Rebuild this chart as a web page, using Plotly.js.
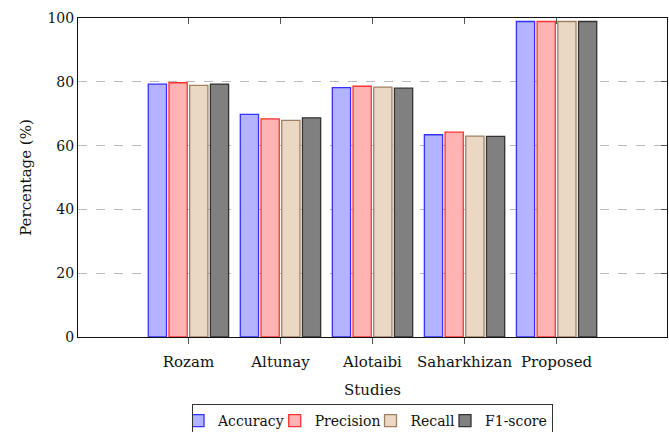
<!DOCTYPE html>
<html><head><meta charset="utf-8">
<script src="https://cdn.plot.ly/plotly-3.0.1.min.js"></script>
<style>html,body{margin:0;padding:0;background:#fff;}#chart{width:669px;height:432px;}</style>
</head><body><div id="chart"></div>
<script>
const studies = ["Rozam", "Altunay", "Alotaibi", "Saharkhizan", "Proposed"];
const accuracy = [79.3, 69.8, 78.2, 63.4, 98.9];
const precision = [79.7, 68.4, 78.6, 64.2, 98.9];
const recall = [78.9, 67.9, 78.3, 63.0, 98.9];
const f1score = [79.3, 68.7, 78.0, 62.9, 98.9];
const yTicks = [0, 20, 40, 60, 80, 100];

const FONT = "DejaVu Serif";
const series = [
  {name: "Accuracy", y: accuracy, fill: "#b3b3ff", line: "#3333ff"},
  {name: "Precision", y: precision, fill: "#ffb3b3", line: "#ff3333"},
  {name: "Recall", y: recall, fill: "#ead8c4", line: "#a08060"},
  {name: "F1-score", y: f1score, fill: "#808080", line: "#333333"}
];
const traces = series.map(s => ({
  type: "bar", name: s.name, x: studies, y: s.y,
  marker: {color: s.fill, line: {color: s.line, width: 1.3}},
  hoverinfo: "skip"
}));
traces.push({type: "scatter", x: studies, y: accuracy, xaxis: "x2", yaxis: "y2", mode: "none", showlegend: false, hoverinfo: "skip"});

const layout = {
  width: 669, height: 432,
  margin: {l: 78, r: 2, t: 18, b: 95, autoexpand: false},
  paper_bgcolor: "#fff", plot_bgcolor: "#fff",
  font: {family: FONT, size: 15, color: "#111"},
  barmode: "group", bargap: 0.1, bargroupgap: 0.12,
  showlegend: true,
  legend: {
    orientation: "h", x: 0.5, xanchor: "center", y: -0.21, yanchor: "top",
    bordercolor: "#333", borderwidth: 1, font: {family: FONT, size: 14},
    itemwidth: 30, indentation: -15, tracegroupgap: 0, traceorder: "normal"
  },
  xaxis: {
    type: "category", range: [-1.2, 5.2], fixedrange: true,
    showline: true, linecolor: "#111", linewidth: 1, mirror: true,
    ticks: "outside", ticklen: 6, tickcolor: "#555", tickwidth: 1,
    ticklabelstandoff: 5,
    showgrid: false, zeroline: false,
    tickfont: {family: FONT, size: 15},
    title: {text: "Studies", font: {family: FONT, size: 15}, standoff: 14}
  },
  xaxis2: {
    type: "category", overlaying: "x", side: "top", range: [-1.2, 5.2], matches: "x",
    ticks: "inside", ticklen: 6, tickcolor: "#555", showticklabels: false,
    showgrid: false, zeroline: false, showline: false
  },
  yaxis: {
    range: [0, 100], tickvals: yTicks, fixedrange: true,
    showline: true, linecolor: "#111", linewidth: 1, mirror: true,
    ticks: "", showgrid: true, gridcolor: "#bbbbbb", griddash: "dash", gridwidth: 1,
    zeroline: false, tickfont: {family: FONT, size: 14},
    title: {text: "Percentage (%)", font: {family: FONT, size: 15}, standoff: 12}
  },
  yaxis2: {
    range: [0, 100], tickvals: [20, 40, 60, 80], overlaying: "y", side: "right",
    ticks: "inside", ticklen: 6, tickcolor: "#555", showticklabels: false,
    showgrid: false, zeroline: false, showline: false
  }
};
Plotly.newPlot("chart", traces, layout, {displayModeBar: false, staticPlot: true});
</script></body></html>
